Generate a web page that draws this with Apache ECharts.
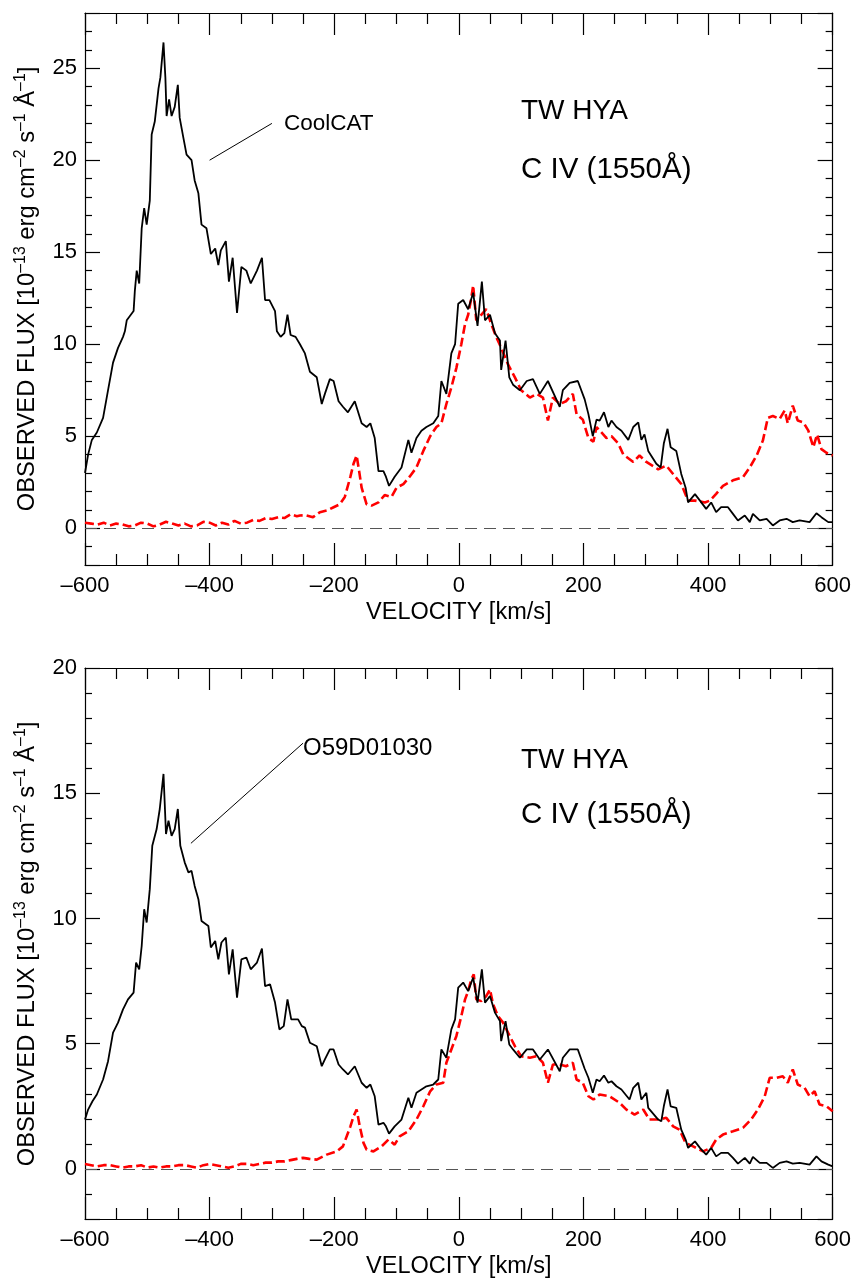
<!DOCTYPE html>
<html><head><meta charset="utf-8">
<script src="https://cdn.jsdelivr.net/npm/echarts@6/dist/echarts.min.js"></script>
<style>html,body{margin:0;padding:0;background:#fff}#c{width:854px;height:1280px}</style>
</head><body><div id="c"></div>
<script>
// ---- data (velocity km/s, flux 1e-13 erg cm-2 s-1 A-1) ----
const velocityTicks = [-600, -400, -200, 0, 200, 400, 600];
const fluxTicksTop = [0, 5, 10, 15, 20, 25];
const fluxTicksBottom = [0, 5, 10, 15, 20];

const coolcatTop = [[-600,3.0],[-595,4.0],[-589,4.8],[-581,5.2],[-571,6.0],[-563,7.5],[-555,9.0],[-547,9.8],[-539,10.4],[-536,10.7],[-533,11.3],[-522,11.8],[-520,12.9],[-517,14.0],[-513,13.3],[-509,16.3],[-505,17.4],[-501,16.5],[-496,17.8],[-493,21.4],[-488,22.1],[-482,23.9],[-479,24.5],[-474,26.4],[-471,24.5],[-469,22.4],[-465,23.3],[-461,22.4],[-456,22.9],[-451,24.1],[-448,22.3],[-442,21.2],[-437,20.3],[-429,20.0],[-424,18.9],[-418,18.2],[-413,16.5],[-405,16.3],[-398,14.9],[-391,15.2],[-386,14.3],[-382,15.1],[-374,15.6],[-369,13.4],[-363,14.7],[-356,11.7],[-349,14.2],[-341,14.0],[-334,13.3],[-324,14.0],[-316,14.7],[-311,12.4],[-304,12.4],[-295,11.8],[-292,10.7],[-286,10.4],[-280,10.6],[-275,11.6],[-270,10.5],[-262,10.4],[-255,10.0],[-247,9.5],[-239,8.5],[-228,8.2],[-220,6.75],[-215,7.3],[-207,8.1],[-201,8.0],[-193,6.9],[-186,6.6],[-178,6.3],[-167,6.9],[-156,5.7],[-148,5.5],[-142,5.7],[-135,4.9],[-129,3.1],[-121,3.1],[-117,2.8],[-112,2.3],[-103,2.8],[-92,3.3],[-81,4.8],[-76,4.1],[-68,4.9],[-60,5.3],[-52,5.5],[-41,5.7],[-33,6.1],[-28,8.0],[-20,7.3],[-12,9.5],[-6,10.0],[-1,12.2],[7,12.4],[15,11.9],[23,12.8],[30,11.0],[37,13.4],[42,11.3],[50,11.6],[58,10.6],[66,10.2],[68,8.6],[75,10.2],[81,8.2],[87,7.8],[98,7.5],[109,8.0],[119,8.1],[130,7.3],[143,8.0],[162,6.6],[167,7.5],[178,7.9],[191,8.0],[202,7.0],[208,6.2],[215,5.0],[221,5.9],[226,5.85],[233,6.3],[240,5.5],[245,5.85],[253,5.5],[261,5.3],[272,4.8],[280,5.5],[288,5.75],[293,4.8],[298,5.1],[304,4.2],[317,3.5],[324,3.3],[329,4.6],[335,5.4],[340,4.4],[349,4.2],[357,2.95],[364,2.2],[368,1.4],[379,1.85],[387,1.5],[397,1.05],[405,1.4],[413,0.87],[421,1.14],[432,1.14],[440,0.78],[448,0.42],[459,0.69],[467,0.33],[472,0.78],[483,0.42],[494,0.51],[504,0.15],[515,0.42],[526,0.51],[536,0.33],[547,0.42],[563,0.33],[574,0.81],[582,0.6],[593,0.33],[600,0.33]];

const modelTop = [[-600,0.3],[-590,0.25],[-580,0.2],[-570,0.3],[-560,0.15],[-550,0.25],[-540,0.2],[-530,0.1],[-520,0.15],[-510,0.3],[-500,0.25],[-490,0.1],[-480,0.2],[-470,0.35],[-460,0.25],[-450,0.15],[-440,0.25],[-430,0.1],[-420,0.15],[-410,0.35],[-400,0.3],[-390,0.15],[-380,0.3],[-370,0.2],[-360,0.4],[-350,0.25],[-340,0.3],[-330,0.45],[-320,0.4],[-310,0.55],[-300,0.5],[-290,0.6],[-280,0.55],[-270,0.75],[-260,0.65],[-255,0.69],[-245,0.7],[-234,0.6],[-223,0.87],[-212,0.96],[-201,1.14],[-191,1.3],[-183,1.7],[-174,2.8],[-169,3.5],[-164,3.95],[-160,3.1],[-156,2.2],[-148,1.3],[-140,1.23],[-129,1.4],[-119,1.8],[-108,1.7],[-100,2.2],[-89,2.4],[-79,2.8],[-68,3.3],[-57,4.2],[-46,5.0],[-36,5.5],[-28,5.7],[-20,6.75],[-12,7.65],[-4,8.7],[4,10.0],[10,11.1],[15,11.6],[20,12.5],[23,13.2],[28,11.3],[36,11.6],[44,11.9],[52,11.1],[60,10.4],[68,9.8],[79,8.9],[90,8.2],[100,7.5],[114,7.1],[125,7.3],[135,7.1],[143,5.85],[151,7.1],[162,6.75],[172,6.9],[183,7.3],[189,6.2],[199,5.9],[208,4.9],[216,4.7],[221,5.5],[237,4.9],[245,5.0],[256,4.6],[264,4.0],[280,3.6],[290,3.95],[301,3.6],[320,3.2],[333,3.4],[346,2.86],[357,2.4],[368,1.5],[379,1.5],[395,1.4],[403,1.5],[413,1.87],[424,2.3],[440,2.6],[456,2.77],[467,3.3],[478,3.95],[488,4.76],[496,6.0],[504,6.1],[515,5.94],[523,6.4],[528,5.7],[536,6.66],[544,5.85],[553,5.75],[561,5.3],[569,4.4],[575,5.1],[582,4.3],[590,4.1],[600,3.95]];

const obsBottom = [[-600,1.97],[-595,2.37],[-588,2.7],[-581,2.97],[-571,3.57],[-563,4.3],[-555,5.44],[-547,5.84],[-539,6.37],[-531,6.77],[-522,7.04],[-518,8.24],[-513,7.97],[-509,8.9],[-505,10.37],[-501,9.84],[-496,11.17],[-492,12.9],[-485,13.57],[-480,14.37],[-474,15.77],[-470,13.37],[-466,13.9],[-461,13.3],[-456,13.57],[-451,14.37],[-447,12.9],[-440,12.24],[-434,11.84],[-429,11.9],[-424,11.3],[-418,10.77],[-413,9.9],[-402,9.7],[-398,8.84],[-391,9.1],[-386,8.37],[-381,9.04],[-374,9.24],[-369,7.77],[-363,8.77],[-356,6.84],[-349,8.37],[-341,8.44],[-334,7.97],[-324,8.24],[-316,8.8],[-311,7.3],[-303,7.37],[-295,6.64],[-288,5.57],[-281,5.7],[-275,6.77],[-269,5.97],[-258,5.97],[-252,5.7],[-247,5.64],[-239,5.04],[-228,4.9],[-220,4.1],[-215,4.37],[-207,4.77],[-201,4.77],[-193,4.17],[-186,3.97],[-178,3.77],[-167,4.1],[-156,3.44],[-148,3.24],[-142,3.37],[-135,2.9],[-129,1.77],[-121,1.84],[-117,1.7],[-112,1.41],[-103,1.7],[-92,1.97],[-81,2.84],[-76,2.44],[-68,3.04],[-60,3.17],[-52,3.3],[-41,3.37],[-33,3.57],[-28,4.77],[-20,4.44],[-12,5.57],[-6,5.97],[-1,7.24],[7,7.44],[15,7.1],[23,7.64],[30,6.64],[37,7.97],[42,6.64],[50,6.9],[58,6.24],[66,5.9],[68,5.1],[75,5.9],[81,4.97],[87,4.77],[98,4.44],[109,4.77],[119,4.77],[130,4.37],[143,4.77],[162,3.9],[167,4.44],[178,4.77],[191,4.77],[202,4.0],[208,3.64],[215,3.04],[221,3.57],[226,3.5],[233,3.73],[240,3.44],[245,3.5],[253,3.3],[261,3.17],[274,2.77],[280,3.24],[288,3.44],[293,2.77],[301,3.04],[304,2.44],[320,1.97],[325,1.9],[329,2.5],[335,3.17],[340,2.5],[349,2.44],[357,1.57],[364,1.17],[368,0.84],[379,1.1],[387,0.84],[397,0.57],[405,0.84],[413,0.5],[421,0.64],[432,0.64],[440,0.44],[448,0.21],[459,0.44],[467,0.21],[472,0.48],[483,0.24],[494,0.24],[504,0.04],[515,0.24],[526,0.3],[536,0.21],[547,0.24],[563,0.17],[574,0.5],[582,0.3],[593,0.17],[600,0.1]];

const modelBottom = [[-600,0.2],[-590,0.15],[-580,0.1],[-570,0.15],[-560,0.15],[-550,0.1],[-540,0.05],[-530,0.1],[-520,0.1],[-510,0.15],[-500,0.05],[-490,0.1],[-480,0.05],[-470,0.1],[-460,0.1],[-450,0.15],[-440,0.15],[-430,0.1],[-420,0.05],[-410,0.15],[-400,0.2],[-390,0.15],[-380,0.1],[-370,0.05],[-360,0.1],[-350,0.2],[-340,0.2],[-330,0.15],[-320,0.2],[-310,0.25],[-300,0.25],[-290,0.3],[-280,0.3],[-270,0.35],[-260,0.4],[-250,0.44],[-240,0.4],[-228,0.37],[-212,0.57],[-196,0.7],[-186,0.9],[-174,1.7],[-169,2.1],[-164,2.37],[-159,1.7],[-153,1.04],[-148,0.77],[-137,0.7],[-124,0.9],[-113,1.17],[-103,0.97],[-95,1.3],[-81,1.5],[-68,1.97],[-57,2.5],[-46,3.1],[-36,3.37],[-25,3.44],[-20,4.24],[-12,4.77],[-4,5.3],[4,6.1],[10,6.77],[15,7.1],[20,7.57],[24,7.77],[28,6.77],[36,6.7],[44,6.9],[50,7.17],[55,6.57],[63,6.1],[71,5.84],[79,5.44],[90,4.9],[100,4.5],[114,4.44],[125,4.5],[135,4.24],[143,3.44],[151,4.17],[162,4.17],[172,4.1],[183,4.24],[189,3.57],[199,3.44],[208,2.9],[216,2.77],[226,2.97],[242,2.9],[258,2.64],[269,2.37],[282,2.17],[296,2.37],[306,1.97],[322,1.97],[333,2.04],[344,1.7],[354,1.57],[364,1.04],[376,0.9],[392,0.7],[405,0.84],[413,1.17],[424,1.37],[440,1.5],[456,1.64],[469,1.97],[480,2.37],[491,2.9],[499,3.64],[510,3.64],[520,3.7],[528,3.44],[536,3.97],[544,3.37],[555,3.24],[563,2.9],[571,3.1],[579,2.57],[590,2.5],[600,2.3]];

const annotTop = [[-400, 20], [-300, 22]];
const annotBottom = [[-430, 13], [-250, 17]];
const titleStar = 'TW HYA';
const titleLine = 'C IV (1550\u00c5)';
const labelTop = 'CoolCAT';
const labelBottom = 'O59D01030';
const xTitle = 'VELOCITY [km/s]';

// ---- layout ----
const FONT = 'Liberation Sans, Arial, Helvetica, sans-serif';
const grids = [
  { left: 85, top: 13, width: 748, height: 552, ymin: -2, ymax: 28, ticks: fluxTicksTop },
  { left: 85, top: 668, width: 748, height: 552, ymin: -2, ymax: 20, ticks: fluxTicksBottom }
];
const axisCol = '#000';
const lw = 1.2;
const dashFmt = v => String(v).replace('-', '\u2013');

const xAxes = [], yAxes = [];
grids.forEach((g, i) => {
  ['bottom', 'top'].forEach(pos => {
    xAxes.push({
      gridIndex: i, type: 'value', position: pos, min: velocityTicks[0], max: velocityTicks[velocityTicks.length - 1],
      interval: velocityTicks[1] - velocityTicks[0],
      axisLine: { show: true, onZero: false, lineStyle: { color: axisCol, width: lw } },
      axisTick: { show: true, inside: true, length: 22, lineStyle: { color: axisCol, width: lw } },
      minorTick: { show: true, splitNumber: 4, length: 11, lineStyle: { color: axisCol, width: lw } },
      splitLine: { show: false },
      axisLabel: { show: pos === 'bottom', fontSize: 22, color: '#000', margin: 10, fontFamily: FONT, formatter: dashFmt },
      name: pos === 'bottom' ? xTitle : '', nameLocation: 'middle', nameGap: 36,
      nameTextStyle: { fontSize: 23.5, color: '#000', fontFamily: FONT }
    });
  });
  ['left', 'right'].forEach(pos => {
    yAxes.push({
      gridIndex: i, type: 'value', position: pos, min: g.ymin, max: g.ymax,
      minInterval: g.ticks[1] - g.ticks[0], maxInterval: g.ticks[1] - g.ticks[0],
      axisLine: { show: true, onZero: false, lineStyle: { color: axisCol, width: lw } },
      axisTick: { show: true, inside: true, length: 15, lineStyle: { color: axisCol, width: lw } },
      minorTick: { show: true, splitNumber: 5, length: 7, lineStyle: { color: axisCol, width: lw } },
      splitLine: { show: false },
      axisLabel: { show: pos === 'left', fontSize: 22, color: '#000', margin: 8, fontFamily: FONT,
        formatter: v => (g.ticks.indexOf(v) >= 0 ? String(v) : '') }
    });
  });
});

function zeroAndAnnot(annot) {
  return {
    symbol: 'none', silent: true, animation: false, label: { show: false },
    data: [
      { yAxis: 0, lineStyle: { type: [12, 7], color: '#555', width: 1.2 } },
      [{ coord: annot[0], lineStyle: { type: 'solid', color: '#000', width: 1 } }, { coord: annot[1] }]
    ]
  };
}

const series = [
  { type: 'line', xAxisIndex: 0, yAxisIndex: 0, data: modelTop, showSymbol: false, animation: false,
    lineStyle: { color: '#ff0000', width: 2.6, type: [9, 4] }, z: 3 },
  { type: 'line', xAxisIndex: 0, yAxisIndex: 0, data: coolcatTop, showSymbol: false, animation: false,
    lineStyle: { color: '#000', width: 1.8 }, z: 4, markLine: zeroAndAnnot(annotTop) },
  { type: 'line', xAxisIndex: 2, yAxisIndex: 2, data: modelBottom, showSymbol: false, animation: false,
    lineStyle: { color: '#ff0000', width: 2.6, type: [9, 4] }, z: 3 },
  { type: 'line', xAxisIndex: 2, yAxisIndex: 2, data: obsBottom, showSymbol: false, animation: false,
    lineStyle: { color: '#000', width: 1.8 }, z: 4, markLine: zeroAndAnnot(annotBottom) }
];

function ytitle(cy) {
  return {
    type: 'text', x: 27, y: cy, rotation: Math.PI / 2, scaleX: 0.99,
    style: {
      text: 'OBSERVED FLUX [10{s|\u201313} erg cm{s|\u20132} s{s|\u20131} \u00c5{s|\u20131}]',
      fontSize: 24, fontFamily: FONT, fill: '#000', align: 'center', verticalAlign: 'middle', lineHeight: 28,
      rich: { s: { fontSize: 16, fontFamily: FONT, fill: '#000', verticalAlign: 'top', lineHeight: 15 } }
    }
  };
}
function txt(x, y, s, size) {
  return { type: 'text', x: x, y: y, style: { text: s, fontSize: size, fontFamily: FONT, fill: '#000', align: 'left', verticalAlign: 'middle' } };
}

const chart = echarts.init(document.getElementById('c'), null, { renderer: 'canvas' });
chart.setOption({
  backgroundColor: '#fff',
  animation: false,
  grid: grids.map(g => ({ left: g.left, top: g.top, width: g.width, height: g.height, containLabel: false })),
  xAxis: xAxes,
  yAxis: yAxes,
  series: series,
  graphic: [
    ytitle(289), ytitle(944),
    txt(521, 111, titleStar, 28), txt(521, 170, titleLine, 29.5),
    txt(521, 760, titleStar, 28), txt(521, 815, titleLine, 29.5),
    txt(284, 124, labelTop, 22.5), txt(303, 748, labelBottom, 24)
  ]
});
</script></body></html>
